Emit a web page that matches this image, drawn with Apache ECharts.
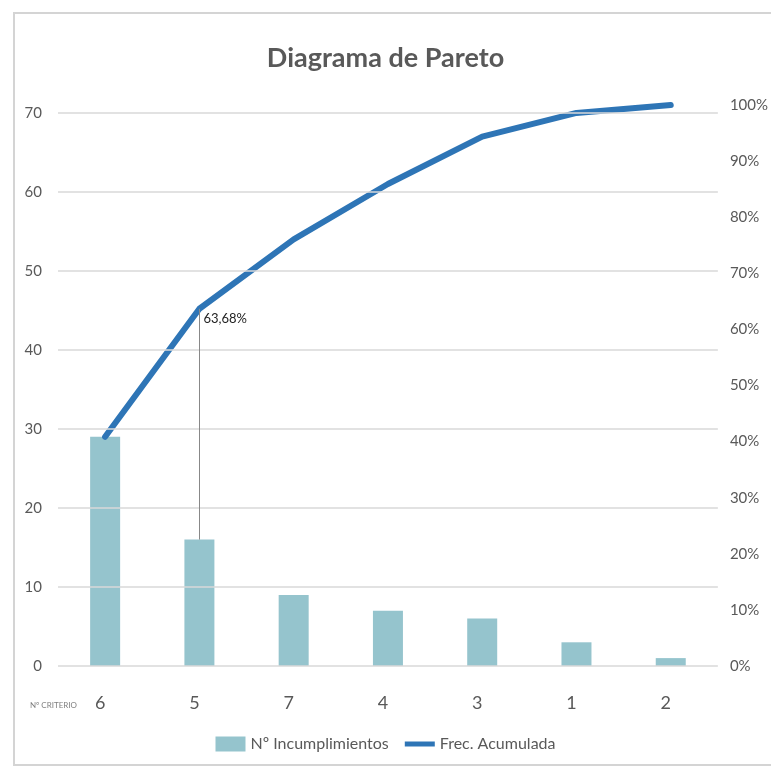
<!DOCTYPE html>
<html>
<head>
<meta charset="utf-8">
<script src="https://cdn.jsdelivr.net/npm/echarts@6/dist/echarts.min.js"></script>
<style>
  html, body { margin: 0; padding: 0; background: #fff; }
  #chart { width: 771px; height: 770px; }
</style>
</head>
<body>
<div id="chart"></div>
<script>
// criterios ordenados por nº de incumplimientos
const criterios = ['6', '5', '7', '4', '3', '1', '2'];
const incumplimientos = [29, 16, 9, 7, 6, 3, 1];
const frecAcumulada = [0.4085, 0.6368, 0.7606, 0.8592, 0.9437, 0.9859, 1.0];
const leftTicks = [0, 10, 20, 30, 40, 50, 60, 70];

const total = incumplimientos.reduce((a, b) => a + b, 0);
const font = 'Lato, "Open Sans", sans-serif';

const chart = echarts.init(document.getElementById('chart'));
chart.setOption({
  animation: false,
  textStyle: { fontFamily: font },
  graphic: [
    {
      type: 'rect', shape: { x: 14, y: 13, width: 780, height: 752 },
      style: { fill: 'none', stroke: '#d4d4d4', lineWidth: 2 }, silent: true
    },
    {
      type: 'text', left: 30, top: 701,
      style: { text: 'Nº CRITERIO', fontSize: 8, fill: '#7f7f7f', fontFamily: font }
    }
  ],
  title: {
    text: 'Diagrama de Pareto', left: 'center', top: 40,
    textStyle: { fontSize: 27, fontWeight: 'bold', color: '#595959', fontFamily: font }
  },
  legend: {
    bottom: 13, left: 'center', itemGap: 16, itemWidth: 30, itemHeight: 15,
    textStyle: { fontSize: 16, color: '#595959' },
    data: [
      { name: 'Nº Incumplimientos', icon: 'rect' },
      { name: 'Frec. Acumulada', icon: 'path://M0,5 L30,5 L30,10 L0,10 Z' }
    ]
  },
  grid: { left: 58, right: 51, top: 105, bottom: 104 },
  xAxis: {
    type: 'category', data: criterios,
    axisLine: { show: false }, axisTick: { show: false },
    axisLabel: { fontSize: 18, color: '#595959', margin: 28, padding: [0, 10, 0, 0] }
  },
  yAxis: [
    {
      type: 'value', min: 0, max: total, interval: 10,
      splitLine: { show: false },
      axisLine: { show: false }, axisTick: { show: false },
      axisLabel: { fontSize: 15, color: '#595959', margin: 16, showMaxLabel: false }
    },
    {
      type: 'value', min: 0, max: 1, interval: 0.1,
      splitLine: { show: false },
      axisLine: { show: false }, axisTick: { show: false },
      axisLabel: {
        fontSize: 15, color: '#595959', margin: 12,
        formatter: v => Math.round(v * 100) + '%'
      }
    }
  ],
  series: [
    {
      name: 'Nº Incumplimientos', type: 'bar', data: incumplimientos,
      barWidth: 30, itemStyle: { color: '#95c4cd' },
      markLine: {
        silent: true, symbol: 'none', label: { show: false },
        lineStyle: { color: '#d9d9d9', width: 1.5, type: 'solid' },
        data: leftTicks.map(t => ({ yAxis: t }))
      }
    },
    {
      name: 'Frec. Acumulada', type: 'line', yAxisIndex: 1,
      data: frecAcumulada.map((v, i) => i === 1
        ? { value: v, label: { show: true } }
        : v),
      showSymbol: true, symbol: 'circle', symbolSize: 0,
      lineStyle: { color: '#2e75b6', width: 6, cap: 'round', join: 'round' },
      itemStyle: { color: '#2e75b6' },
      label: {
        show: false, position: 'right', distance: 4, fontSize: 13, color: '#222',
        offset: [0, 10],
        formatter: p => (p.value * 100).toFixed(2).replace('.', ',') + '%'
      },
      markLine: {
        silent: true, symbol: 'none', label: { show: false },
        lineStyle: { color: '#888', width: 1, type: 'solid' },
        data: [[
          { coord: [1, frecAcumulada[1]] },
          { coord: [1, incumplimientos[1] / total] }
        ]]
      }
    }
  ]
});
</script>
</body>
</html>
